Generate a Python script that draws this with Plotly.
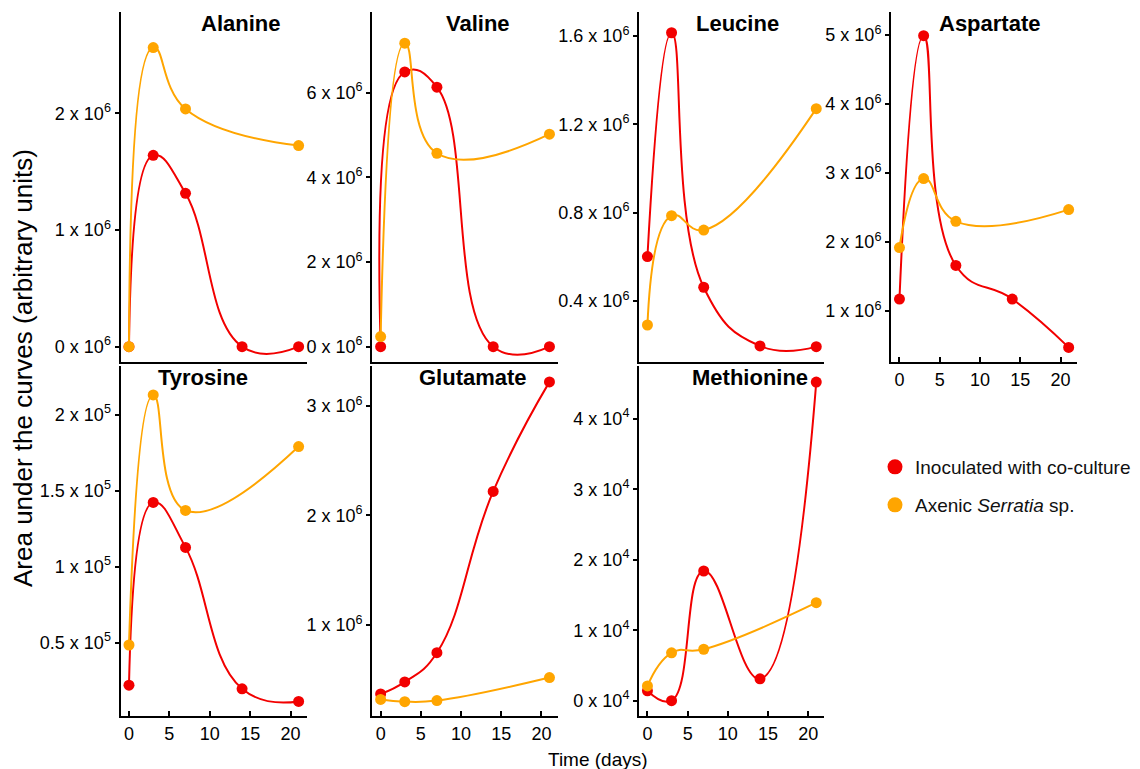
import plotly.graph_objects as go

# ---------------- data ----------------
days_red = [0, 3, 7, 14, 21]
days_orange = [0, 3, 7, 21]

alanine_red = [0, 1.64e6, 1.314e6, 0, 0]
alanine_orange = [0, 2.563e6, 2.037e6, 1.723e6]
valine_red = [0, 6.49e6, 6.13e6, 0, 0]
valine_orange = [0.24e6, 7.17e6, 4.57e6, 5.02e6]
leucine_red = [0.601e6, 1.615e6, 0.462e6, 0.196e6, 0.193e6]
leucine_orange = [0.291e6, 0.786e6, 0.721e6, 1.271e6]
aspartate_red = [1.174e6, 4.99e6, 1.66e6, 1.174e6, 0.473e6]
aspartate_orange = [1.92e6, 2.92e6, 2.30e6, 2.47e6]
tyrosine_red = [0.221e5, 1.423e5, 1.127e5, 0.197e5, 0.114e5]
tyrosine_orange = [0.485e5, 2.13e5, 1.37e5, 1.79e5]
glutamate_red = [0.37e6, 0.48e6, 0.747e6, 2.22e6, 3.22e6]
glutamate_orange = [0.32e6, 0.30e6, 0.31e6, 0.52e6]
methionine_red = [0.14e4, 0.0, 1.84e4, 0.31e4, 4.52e4]
methionine_orange = [0.21e4, 0.68e4, 0.73e4, 1.39e4]

x_ticks = [0, 5, 10, 15, 20]

alanine_ticks = [0, 1, 2]
valine_ticks = [0, 2, 4, 6]
leucine_ticks = [0.4, 0.8, 1.2, 1.6]
aspartate_ticks = [1, 2, 3, 4, 5]
tyrosine_ticks = [0.5, 1, 1.5, 2]
glutamate_ticks = [1, 2, 3]
methionine_ticks = [0, 1, 2, 3, 4]

legend_names = ["Inoculated with co-culture", "Axenic <i>Serratia</i> sp."]
x_title = "Time (days)"
y_title = "Area under the curves (arbitrary units)"

# ---------------- layout helpers ----------------
W, H = 1140, 769
RED = "#F20000"
ORANGE = "#FFA500"
FONT = "Liberation Sans, Arial, sans-serif"


def px(x):
    return x / W


def py(y):
    return 1 - y / H


cols = [(120.5, 306.7), (372.2, 557.5), (639.0, 824.3), (891.0, 1076.7)]
rows = [(12.0, 362.3), (366.0, 716.0)]

panels = [
    # name, red, orange, ticks, exponent, yrange, col, row, x tick labels, title centre
    ("Alanine", alanine_red, alanine_orange, alanine_ticks, 6, (-0.134e6, 2.868e6), 0, 0, False, (240, 23)),
    ("Valine", valine_red, valine_orange, valine_ticks, 6, (-0.369e6, 7.907e6), 1, 0, False, (478, 23)),
    ("Leucine", leucine_red, leucine_orange, leucine_ticks, 6, (0.122e6, 1.709e6), 2, 0, False, (737, 23)),
    ("Aspartate", aspartate_red, aspartate_orange, aspartate_ticks, 6, (0.257e6, 5.333e6), 3, 0, True, (989, 23)),
    ("Tyrosine", tyrosine_red, tyrosine_orange, tyrosine_ticks, 5, (0.018e5, 2.32e5), 0, 1, True, (203, 377)),
    ("Glutamate", glutamate_red, glutamate_orange, glutamate_ticks, 6, (0.169e6, 3.365e6), 1, 1, True, (473, 377)),
    ("Methionine", methionine_red, methionine_orange, methionine_ticks, 4, (-0.217e4, 4.748e4), 2, 1, True, (750, 377)),
]

fig = go.Figure()
layout = dict(
    width=W,
    height=H,
    autosize=False,
    margin=dict(l=0, r=0, t=0, b=0),
    paper_bgcolor="white",
    plot_bgcolor="white",
    font=dict(family=FONT, size=18, color="black"),
    annotations=[],
)


def fmt(v):
    return "%g" % v


for i, (name, red, orange, ticks, ex, yr, c, r, xlab, tpos) in enumerate(panels):
    k = "" if i == 0 else str(i + 1)
    xa, ya = "x" + k, "y" + k
    fig.add_trace(go.Scatter(
        x=days_red, y=red, xaxis=xa, yaxis=ya, mode="lines+markers",
        line=dict(color=RED, width=2, shape="spline", smoothing=1.3),
        marker=dict(color=RED, size=11), showlegend=False, cliponaxis=False,
    ))
    fig.add_trace(go.Scatter(
        x=days_orange, y=orange, xaxis=xa, yaxis=ya, mode="lines+markers",
        line=dict(color=ORANGE, width=2, shape="spline", smoothing=1.3),
        marker=dict(color=ORANGE, size=11), showlegend=False, cliponaxis=False,
    ))
    scale = 10 ** ex
    layout["xaxis" + k] = dict(
        domain=[px(cols[c][0]), px(cols[c][1])],
        anchor=ya, range=[-1.05, 22.0],
        showline=True, linecolor="black", linewidth=2,
        showgrid=False, zeroline=False,
        ticks="inside" if xlab else "", ticklen=5, tickwidth=1.5, tickcolor="black",
        tickvals=x_ticks, showticklabels=xlab,
        tickfont=dict(family=FONT, size=18, color="black"),
    )
    layout["yaxis" + k] = dict(
        domain=[py(rows[r][1]), py(rows[r][0])],
        anchor=xa, range=[yr[0], yr[1]],
        showline=True, linecolor="black", linewidth=2,
        showgrid=False, zeroline=False,
        ticks="outside", ticklen=4, tickwidth=1.5, tickcolor="black",
        tickvals=[t * scale for t in ticks],
        ticktext=["%s x 10<sup>%d</sup>" % (fmt(t), ex) for t in ticks],
        tickfont=dict(family=FONT, size=18, color="black"),
    )
    layout["annotations"].append(dict(
        text="<b>%s</b>" % name, xref="paper", yref="paper",
        x=px(tpos[0]), y=py(tpos[1]), xanchor="center", yanchor="middle",
        showarrow=False, font=dict(family=FONT, size=22, color="black"),
    ))

# legend-only entries
fig.add_trace(go.Scatter(x=[None], y=[None], mode="markers", name=legend_names[0],
                         marker=dict(color=RED, size=15), legend="legend"))
fig.add_trace(go.Scatter(x=[None], y=[None], mode="markers", name=legend_names[1],
                         marker=dict(color=ORANGE, size=15), legend="legend2"))

layout["legend"] = dict(x=px(875), y=py(467), xanchor="left", yanchor="middle",
                        font=dict(family=FONT, size=19, color="#111"), bgcolor="rgba(0,0,0,0)",
                        itemsizing="trace")
layout["legend2"] = dict(x=px(875), y=py(505), xanchor="left", yanchor="middle",
                         font=dict(family=FONT, size=19, color="#111"), bgcolor="rgba(0,0,0,0)",
                         itemsizing="trace")

layout["annotations"].append(dict(
    text=x_title, xref="paper", yref="paper", x=px(598), y=py(759),
    xanchor="center", yanchor="middle", showarrow=False,
    font=dict(family=FONT, size=19, color="black"),
))
layout["annotations"].append(dict(
    text=y_title, xref="paper", yref="paper", x=px(23), y=py(368),
    xanchor="center", yanchor="middle", showarrow=False, textangle=-90,
    font=dict(family=FONT, size=26, color="black"),
))

fig.update_layout(**layout)
fig.write_html("out.html", config={"displayModeBar": False},
               post_script="document.body.style.margin='0';")
